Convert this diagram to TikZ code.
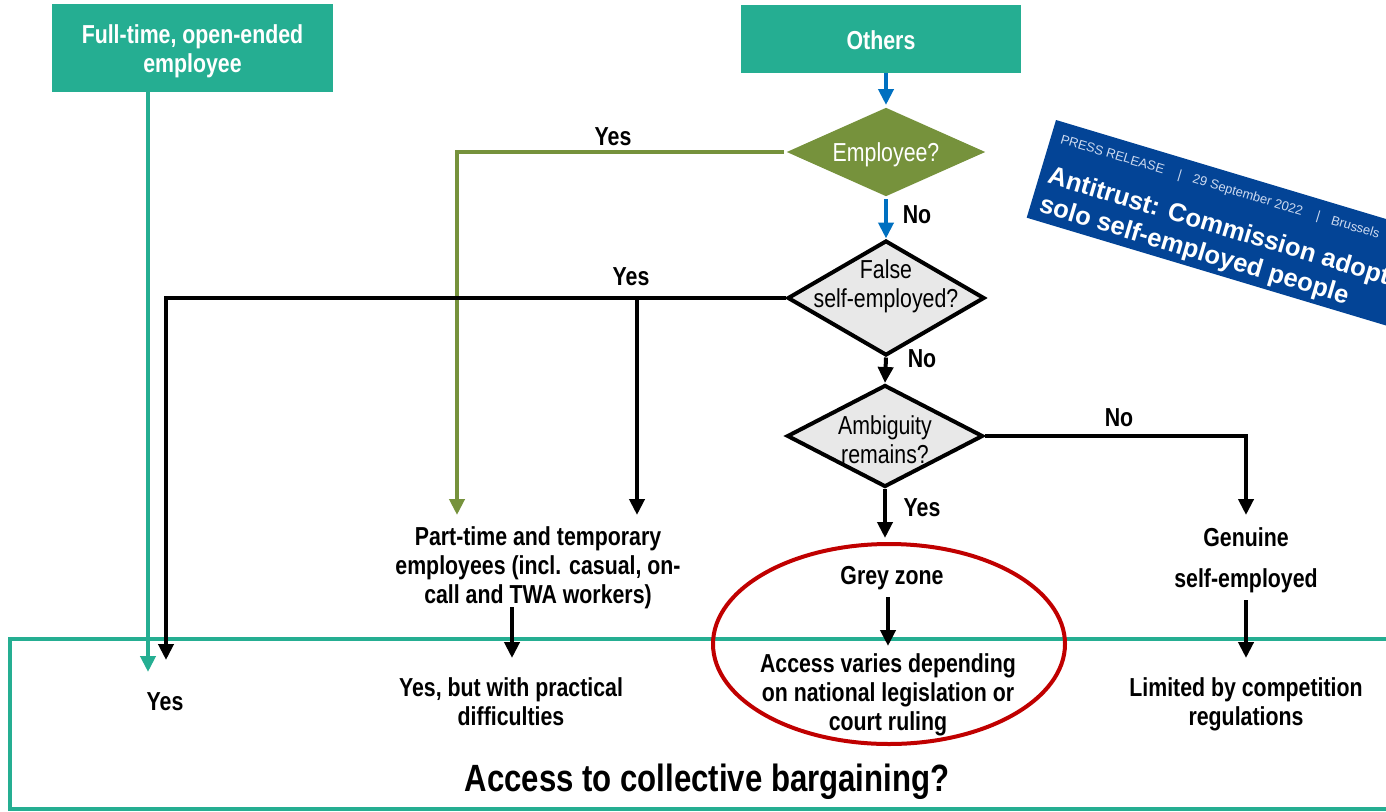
\documentclass[tikz,border=0pt]{standalone}
\usepackage{fontspec}
\setmainfont{Liberation Sans}
\newfontfamily\narrowfont[FakeStretch=0.82]{Liberation Sans}
\usetikzlibrary{arrows.meta,shapes.geometric}

\definecolor{tealgreen}{RGB}{37,174,146}
\definecolor{olivegreen}{RGB}{118,146,60}
\definecolor{arrowblue}{RGB}{0,112,192}
\definecolor{diagray}{RGB}{232,232,232}
\definecolor{ringred}{RGB}{192,0,0}
\definecolor{eublue}{RGB}{3,68,150}
\definecolor{bannerpale}{RGB}{205,218,240}

\begin{document}
\begin{tikzpicture}[x=1pt,y=-1pt,
  bodytext/.style={font=\narrowfont\bfseries\fontsize{26}{29}\selectfont, align=center, inner sep=0pt},
  headbox/.style={fill=tealgreen, inner sep=0pt},
  headtext/.style={bodytext, text=white},
  decision/.style={diamond, line width=4pt, inner sep=0pt},
  qtext/.style={font=\narrowfont\fontsize{26}{29}\selectfont, align=center, inner sep=0pt},
  conn/.style={line width=4pt},
  tip/.style={-{Triangle[width=15pt,length=16pt]}},
]
\useasboundingbox (0,0) rectangle (1386,811);
\clip (0,0) rectangle (1386,811);

% outer frame of the outcome row
\draw[tealgreen, line width=4pt] (10,639) rectangle (1420,809);

% starting categories
\node[headbox, minimum width=281pt, minimum height=88pt,
      label={[headtext, yshift=-3pt]center:{Full-time, open-ended\\employee}}] (ft) at (192.5,48) {};
\node[headbox, minimum width=280pt, minimum height=68pt,
      label={[headtext, yshift=-1pt]center:Others}] (oth) at (881,39) {};

% decisions
\node[decision, fill=olivegreen, minimum width=200pt, minimum height=90pt,
      label={[qtext, text=white, yshift=-3pt]center:Employee?}] (emp) at (886,152) {};
\node[decision, draw=black, fill=diagray, minimum width=197pt, minimum height=115pt,
      label={[qtext, yshift=12pt]center:{False\\self-employed?}}] (fse) at (886,298) {};
\node[decision, draw=black, fill=diagray, minimum width=196pt, minimum height=102pt,
      label={[qtext, yshift=-4pt]center:{Ambiguity\\remains?}}] (amb) at (885,436) {};

% outcome texts
\node[bodytext] (pt) at (538,568) {Part-time and temporary\\employees (incl. casual, on-\\call and TWA workers)};
\node[bodytext] (ypd) at (511,702) {Yes, but with practical\\difficulties};
\node[bodytext] (gz) at (892,578) {Grey zone};
\node[bodytext] (avd) at (888,695) {Access varies depending\\on national legislation or\\court ruling};
\node[bodytext] (gen) at (1246,560) {Genuine\\[12pt]self-employed};
\node[bodytext] (lim) at (1246,704) {Limited by competition\\regulations};
\node[bodytext] (yesl) at (165,702) {Yes};
\node[bodytext, font=\narrowfont\bfseries\fontsize{38}{42}\selectfont] (title) at (707,782) {Access to collective bargaining?};

% branch labels
\node[bodytext] (lyes1) at (613,137) {Yes};
\node[bodytext] (lno1) at (917,215) {No};
\node[bodytext] (lyes2) at (631,277) {Yes};
\node[bodytext] (lno2) at (922,359) {No};
\node[bodytext] (lno3) at (1119,418) {No};
\node[bodytext] (lyes3) at (922,508) {Yes};

% arrow end points
\coordinate (ftin) at (148,672);
\coordinate (gend) at (457,515);
\coordinate (ptin) at (637,515);
\coordinate (yesin) at (166,660);
\coordinate (genin) at (1246,515);
\coordinate (gzin) at (885,538);
\coordinate (ptout) at (512,607);
\coordinate (ypdin) at (512,658);
\coordinate (gzout) at (888,597);
\coordinate (avdin) at (888,646);
\coordinate (genout) at (1246,600);
\coordinate (limin) at (1246,658);

% connectors
\draw[conn, tealgreen, tip] (ft.south -| ftin) -- (ftin);
\draw[conn, arrowblue, tip] (oth.south -| emp.north) -- (emp.north);
\draw[conn, arrowblue, tip] (emp.south) -- (fse.north);
\draw[conn, olivegreen, tip] (emp.west) -| (gend);
\draw[conn, tip] (fse.west) -| (yesin);
\draw[conn, tip] (fse.west -| ptin) -- (ptin);
\draw[conn, tip] (fse.south) -- (amb.north);
\draw[conn, tip] (amb.east) -| (genin);
\draw[conn, tip] (amb.south) -- (gzin);
\draw[conn, tip] (ptout) -- (ypdin);
\draw[conn, tip] (gzout) -- (avdin);
\draw[conn, tip] (genout) -- (limin);

% highlight of the grey zone
\draw[ringred, line width=4pt] (889,644) ellipse [x radius=176, y radius=100];

% press release banner
\begin{scope}[shift={(1056,120)}, rotate=-16.7, transform shape]
  \fill[eublue] (0,0) rectangle (560,102);
  \node[anchor=base west, inner sep=0pt, text=bannerpale, font=\fontsize{13}{15}\selectfont] (prl) at (10,21)
    {PRESS RELEASE\hspace{15pt}|\hspace{12pt}29 September 2022\hspace{15pt}|\hspace{12pt}Brussels\hspace{15pt}|};
  \node[anchor=base west, inner sep=0pt, text=white, font=\bfseries\fontsize{25.6}{30}\selectfont] (prt1) at (9,63)
    {Antitrust: Commission adopts};
  \node[anchor=base west, inner sep=0pt, text=white, font=\bfseries\fontsize{25.6}{30}\selectfont] (prt2) at (9,93)
    {solo self-employed people};
\end{scope}
\end{tikzpicture}
\end{document}
